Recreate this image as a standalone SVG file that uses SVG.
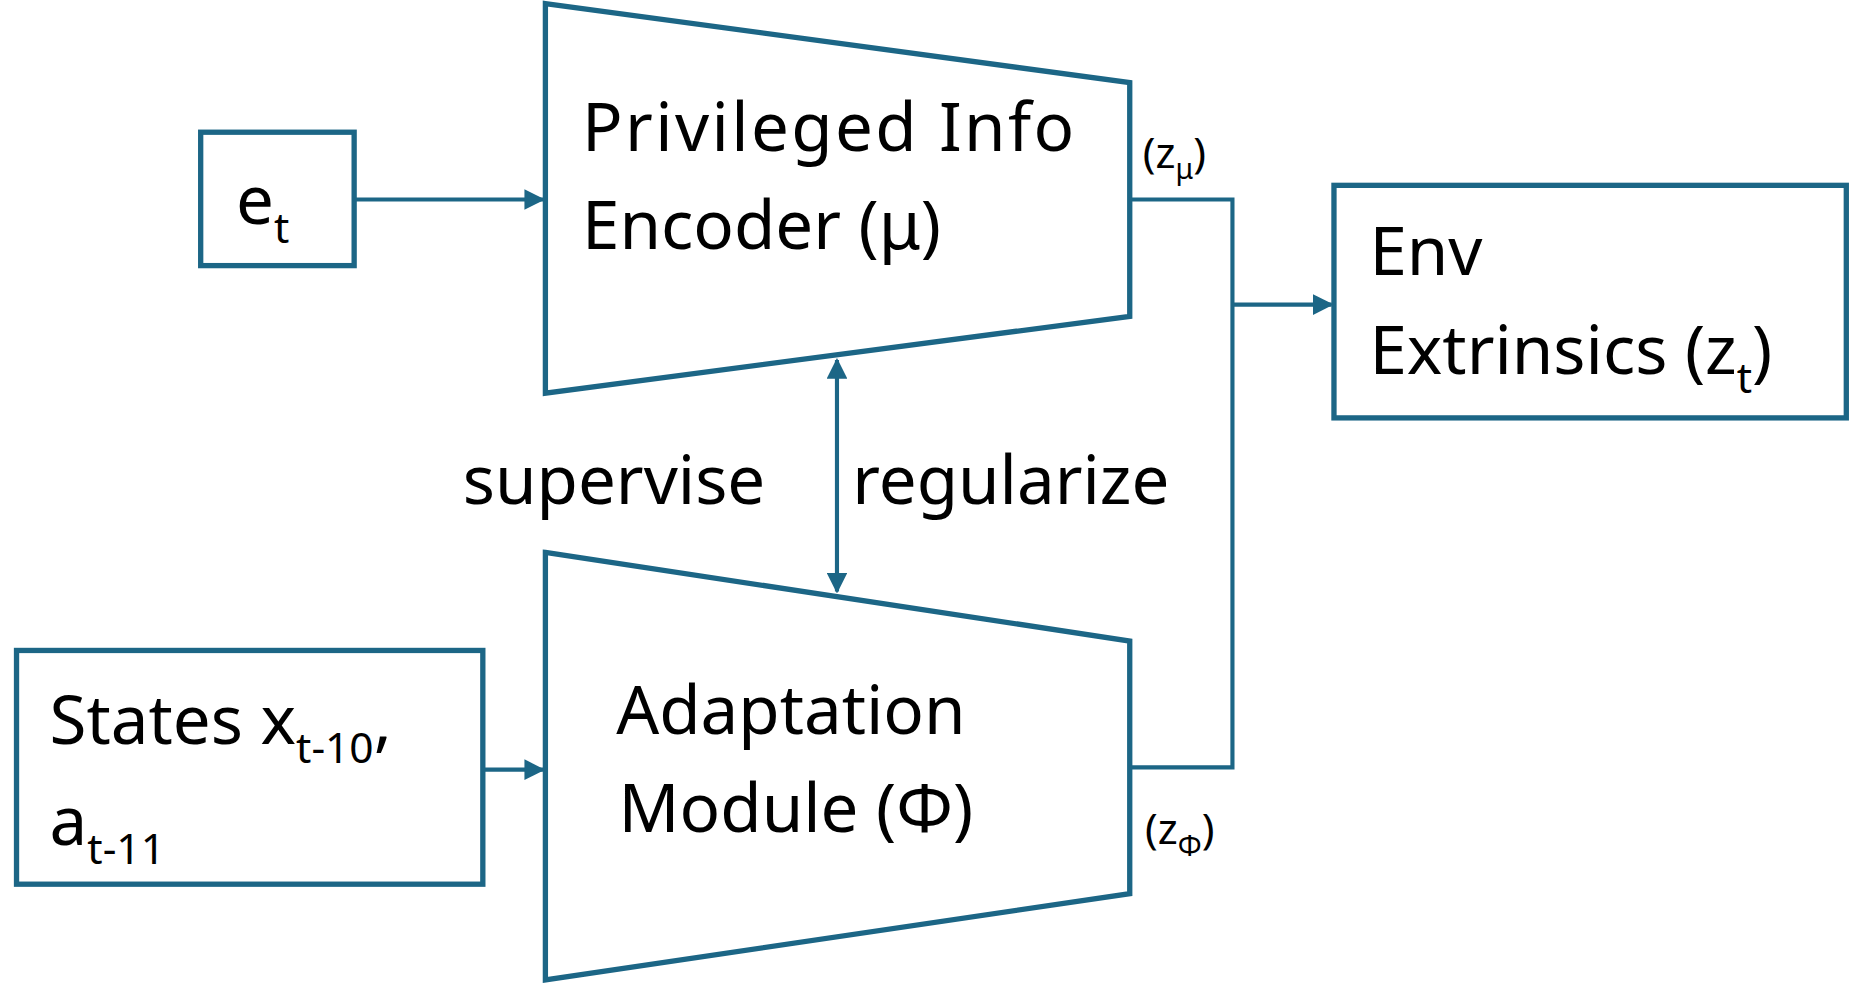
<svg xmlns="http://www.w3.org/2000/svg" width="1851" height="987" viewBox="0 0 1851 987">
<defs>
<style>
.s{fill:none;stroke:#1c6686;stroke-width:4.5}
.c{fill:none;stroke:#1c6686;stroke-width:3.5}
.t{font-family:"Noto Sans","Liberation Sans",sans-serif;font-size:57px;fill:#000}
.sm{font-family:"Noto Sans","Liberation Sans",sans-serif;font-size:36px;fill:#000}
</style>
<marker id="a" viewBox="0 0 10 10" refX="9" refY="5" markerWidth="5" markerHeight="5" orient="auto-start-reverse" markerUnits="strokeWidth"><path d="M0,0L10,5L0,10z" fill="#1c6686"/></marker>
</defs>
<rect width="1851" height="987" fill="#fff"/>
<g transform="scale(1.1805)">
<g id="et"><rect class="s" x="170" y="112" width="130" height="113"/><text class="t" x="200" y="190">e<tspan class="sm" dy="16">t</tspan></text></g>
<g id="encoder"><path class="s" d="M462,3L957,70L957,268L462,333Z"/><text class="t" x="493" y="128" textLength="417">Privileged Info</text><text class="t" x="493" y="211">Encoder (μ)</text></g>
<g id="env"><rect class="s" x="1130" y="157" width="434" height="197"/><text class="t" x="1160" y="233">Env</text><text class="t" x="1160" y="317">Extrinsics (z<tspan class="sm" dy="16">t</tspan><tspan dy="-16">)</tspan></text></g>
<g id="adapt"><path class="s" d="M462,468L957,543L957,757L462,830Z"/><text class="t" x="522" y="622">Adaptation</text><text class="t" x="524" y="705">Module (Φ)</text></g>
<g id="states"><rect class="s" x="14" y="551" width="395" height="198"/><text class="t" x="42" y="630">States x<tspan class="sm" dy="16">t-10</tspan><tspan dy="-16">,</tspan></text><text class="t" x="42" y="716">a<tspan class="sm" dy="16">t-11</tspan></text></g>
<g id="labels">
<text class="sm" x="968" y="142">(z<tspan font-size="24" dy="10">μ</tspan><tspan dy="-10">)</tspan></text>
<text class="sm" x="970" y="715">(z<tspan font-size="24" dy="10">Φ</tspan><tspan dy="-10">)</tspan></text>
<text class="t" x="392" y="427">supervise</text>
<text class="t" x="722" y="427">regularize</text>
</g>
<g id="connectors">
<path class="c" d="M300,169H460" marker-end="url(#a)"/>
<path class="c" d="M409,652H460" marker-end="url(#a)"/>
<path class="c" d="M709,305V501" marker-start="url(#a)" marker-end="url(#a)"/>
<path class="c" d="M957,169H1044V650H957"/>
<path class="c" d="M1044,258H1128" marker-end="url(#a)"/>
</g>
</g>
</svg>
